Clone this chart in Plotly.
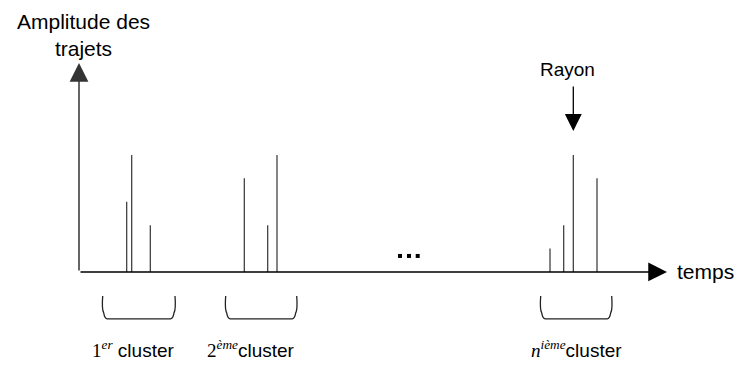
import plotly.graph_objects as go

# ---- data (time in arbitrary units, amplitude normalised) ----
cluster1_t = [4.77, 5.27, 7.13]
cluster1_a = [0.6, 1.0, 0.4]
cluster2_t = [16.53, 18.87, 19.8]
cluster2_a = [0.8, 0.4, 1.0]
cluster3_t = [47.1, 48.47, 49.43, 51.8]
cluster3_a = [0.2, 0.4, 1.0, 0.8]

brace_start = [2.37, 14.67, 46.17]
brace_end = [9.6, 21.77, 53.27]
cluster_labels = [
    '<span style="font-family:Liberation Serif">1<sup><i>er</i></sup></span> cluster',
    '<span style="font-family:Liberation Serif">2<sup><i>ème</i></sup></span>cluster',
    '<span style="font-family:Liberation Serif"><i>n</i><sup><i>ième</i></sup></span>cluster',
]
label_shift = [-6, -10, 0]
ellipsis_t = [32.1, 33.0, 33.87]
ellipsis_a = [0.137, 0.137, 0.137]

x_axis_end = 58.8
y_axis_end = 1.786
ray_index = 2  # third path of last cluster
ray_tail = 1.598
ray_tip = 1.205

# ---- build figure ----
all_t = cluster1_t + cluster2_t + cluster3_t
all_a = cluster1_a + cluster2_a + cluster3_a
xs, ys = [], []
for t, a in zip(all_t, all_a):
    xs += [t, t, None]
    ys += [0, a, None]

fig = go.Figure()
fig.add_trace(go.Scatter(x=xs, y=ys, mode="lines",
                         line=dict(color="#333333", width=1.2),
                         hoverinfo="skip"))
fig.add_trace(go.Scatter(x=ellipsis_t, y=ellipsis_a, mode="markers",
                         marker=dict(symbol="square", size=4, color="black",
                                     line=dict(width=0)),
                         hoverinfo="skip"))

FONT = "Liberation Sans, Arial, sans-serif"
annotations = []
# axes arrows
annotations.append(dict(x=x_axis_end, y=0, ax=0, ay=0, xref="x", yref="y",
                        axref="x", ayref="y", showarrow=True, arrowhead=2,
                        arrowsize=2.5, arrowwidth=1.5, arrowcolor="black",
                        text=""))
annotations.append(dict(x=0, y=y_axis_end, ax=0, ay=0, xref="x", yref="y",
                        axref="x", ayref="y", showarrow=True, arrowhead=2,
                        arrowsize=2.5, arrowwidth=1.5, arrowcolor="#333333",
                        text=""))
# Rayon arrow
ray_t = cluster3_t[ray_index]
annotations.append(dict(x=ray_t, y=ray_tip, ax=ray_t, ay=ray_tail, xref="x",
                        yref="y", axref="x", ayref="y", showarrow=True,
                        arrowhead=2, arrowsize=2.6, arrowwidth=1.3,
                        arrowcolor="black", text=""))
annotations.append(dict(x=ray_t, y=ray_tail, xref="x", yref="y",
                        text="Rayon", showarrow=False, xanchor="center",
                        yanchor="bottom", xshift=-6, yshift=3,
                        font=dict(family=FONT, size=19, color="black")))
# titles
annotations.append(dict(x=0, y=y_axis_end, xref="x", yref="y",
                        text="Amplitude des<br>trajets", showarrow=False,
                        xanchor="center", yanchor="bottom", xshift=4, yshift=1,
                        font=dict(family=FONT, size=21, color="black")))
annotations.append(dict(x=x_axis_end, y=0, xref="x", yref="y",
                        text="temps", showarrow=False, xanchor="left",
                        yanchor="middle", xshift=8, yshift=0,
                        font=dict(family=FONT, size=21, color="black")))

shapes = []
top_b, bot_b = -0.205, -0.40
dx, dy = 0.45, 0.05
for s, e, lab, sh in zip(brace_start, brace_end, cluster_labels, label_shift):
    path = (f"M {s},{top_b} Q {s-0.1},{bot_b+0.08} {s+0.1},{bot_b+dy} "
            f"Q {s+0.2},{bot_b} {s+dx},{bot_b} L {e-dx},{bot_b} "
            f"Q {e-0.2},{bot_b} {e-0.1},{bot_b+dy} Q {e+0.1},{bot_b+0.08} {e},{top_b}")
    shapes.append(dict(type="path", path=path, xref="x", yref="y",
                       line=dict(color="#222222", width=1.3)))
    annotations.append(dict(x=(s + e) / 2, y=-0.658, xref="x", yref="y",
                            text=lab, showarrow=False, xanchor="center",
                            yanchor="middle", xshift=sh,
                            font=dict(family=FONT, size=19, color="black")))

# the page body has an 8px margin, so the figure is 8px smaller than the window
fig.update_layout(
    width=734, height=357,
    margin=dict(l=0, r=0, t=0, b=0),
    paper_bgcolor="white", plot_bgcolor="white",
    showlegend=False,
    xaxis=dict(range=[-7.1, 66.3], visible=False, fixedrange=True),
    yaxis=dict(range=[-0.795, 2.256], visible=False, fixedrange=True),
    annotations=annotations,
    shapes=shapes,
)

fig.write_html("out.html")
